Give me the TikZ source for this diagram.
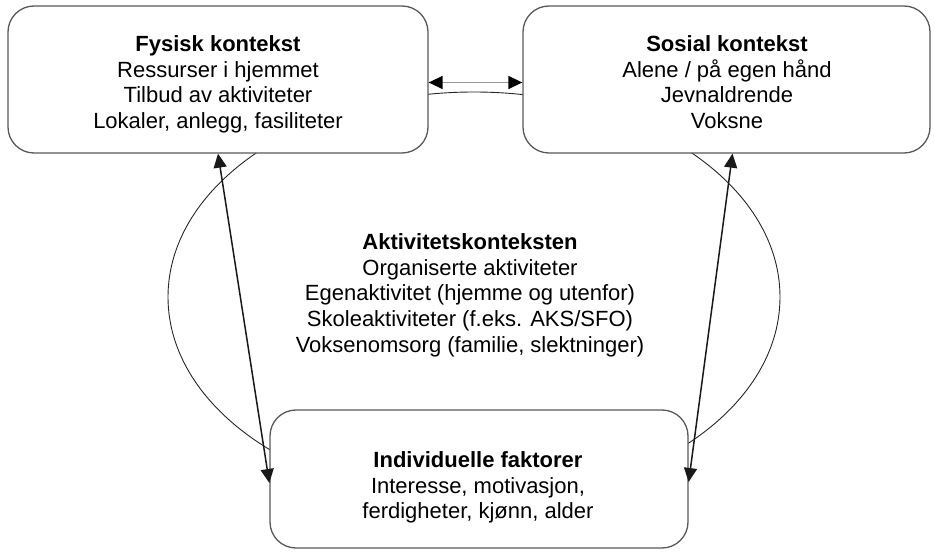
\documentclass[tikz,border=0pt]{standalone}
\usepackage{fontspec}
\setmainfont{Liberation Sans}
\usetikzlibrary{arrows.meta,shapes.geometric}
\begin{document}
\begin{tikzpicture}[x=1pt,y=-1pt,
  box/.style={draw=black!65, line width=1.3pt, fill=white, rounded corners=26pt, inner sep=0pt},
  ctext/.style={align=center, inner sep=0pt, anchor=north, font=\fontsize{22}{25.8}\selectfont},
  biarrow/.style={{Triangle[length=14pt,width=13pt]}-{Triangle[length=14pt,width=13pt]}, line width=1.5pt, draw=black!90},
  cycle/.style={draw=black!85, line width=0.9pt, ellipse, inner sep=0pt}
]
\useasboundingbox (0,0) rectangle (935,556);
\node[cycle, minimum width=612pt, minimum height=410pt] (cyc) at (474,297) {};
\node[box, minimum width=420pt, minimum height=147pt] (L) at (218,79.5) {};
\node[box, minimum width=407pt, minimum height=147pt] (R) at (726.5,79.5) {};
\node[box, minimum width=418pt, minimum height=138pt] (B) at (479,479) {};
\node[ctext] (Lt) at (218,33)
  {\strut\textbf{Fysisk kontekst}\\Ressurser i hjemmet\\Tilbud av aktiviteter\\Lokaler, anlegg, fasiliteter};
\node[ctext] (Rt) at (727,33)
  {\strut\textbf{Sosial kontekst}\\Alene / på egen hånd\\Jevnaldrende\\Voksne};
\node[ctext] (Bt) at (478,449)
  {\strut\textbf{Individuelle faktorer}\\Interesse, motivasjon,\\ferdigheter, kjønn, alder};
\node[ctext] (C) at (470,231)
  {\strut\textbf{Aktivitetskonteksten}\\Organiserte aktiviteter\\Egenaktivitet (hjemme og utenfor)\\Skoleaktiviteter (f.eks. AKS/SFO)\\Voksenomsorg (familie, slektninger)};
\draw[biarrow] (L.south) -- ([yshift=-4pt]B.west);
\draw[biarrow] ([xshift=6pt]R.south) -- ([yshift=-3pt]B.east);
\draw[{Triangle[length=14pt,width=13pt,color=black]}-{Triangle[length=14pt,width=13pt,color=black]}, line width=1.5pt, draw=black!40]
  ([yshift=-3pt]L.east) -- ([yshift=-3pt]R.west);
\end{tikzpicture}
\end{document}
